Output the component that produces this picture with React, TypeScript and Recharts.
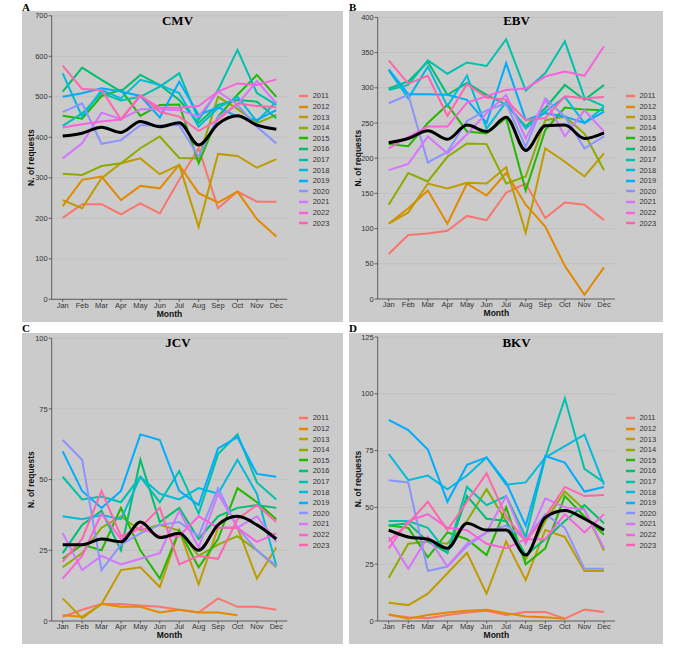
import { CartesianGrid, Legend, Line, LineChart, XAxis, YAxis } from 'recharts';

const months = ['Jan', 'Feb', 'Mar', 'Apr', 'May', 'Jun', 'Jul', 'Aug', 'Sep', 'Oct', 'Nov', 'Dec'];
const years = ['2011', '2012', '2013', '2014', '2015', '2016', '2017', '2018', '2019', '2020', '2021', '2022', '2023'];
const yearColors = [
    '#F8766D', '#E18A00', '#BE9C00', '#8CAB00', '#24B700', '#00BE70', '#00C1AB',
    '#00BBDA', '#00ACFC', '#8B93FF', '#D575FE', '#F962DD', '#FF65AC',
];

// one row per year, 2011 -> 2023
const cmvByYear: (number | null)[][] = [
    [201, 235, 235, 210, 237, 212, 295, 373, 225, 266, 241, 241],
    [230, 295, 303, 245, 280, 274, 332, 262, 239, 266, 198, 155],
    [245, 225, 299, 336, 348, 309, 332, 179, 359, 354, 325, 346],
    [310, 307, 329, 336, 373, 402, 349, 348, 500, 470, 435, 455],
    [453, 446, 502, 517, 453, 480, 481, 336, 451, 505, 554, 500],
    [513, 572, 542, 513, 554, 529, 492, 435, 480, 492, 488, 447],
    [428, 459, 509, 491, 500, 525, 558, 443, 517, 616, 509, 480],
    [558, 451, 517, 496, 542, 529, 509, 426, 472, 500, 439, 488],
    [500, 509, 521, 513, 502, 449, 537, 455, 474, 451, 443, 467],
    [462, 484, 384, 393, 430, 430, 430, 352, 451, 480, 426, 385],
    [348, 385, 461, 445, 469, 469, 467, 451, 513, 481, 539, 484],
    [424, 432, 439, 444, 502, 473, 473, 477, 513, 533, 529, 543],
    [577, 519, 517, 444, 504, 463, 451, 416, 443, 484, 477, 474],
];
const cmvMean = [403, 410, 425, 412, 439, 426, 436, 381, 433, 453, 430, 420];

const ebvByYear: (number | null)[][] = [
    [64, 91, 93, 97, 118, 112, 151, 164, 115, 137, 134, 112],
    [107, 129, 154, 107, 164, 147, 179, 134, 103, 47, 6, 45],
    [107, 123, 164, 157, 165, 164, 187, 94, 214, 195, 174, 207],
    [134, 179, 167, 202, 221, 220, 164, 174, 254, 259, 235, 183],
    [220, 217, 250, 276, 238, 235, 257, 154, 240, 272, 269, 268],
    [299, 309, 337, 290, 307, 290, 276, 245, 271, 304, 283, 304],
    [297, 304, 339, 320, 336, 331, 369, 296, 321, 366, 286, 274],
    [325, 285, 330, 274, 317, 242, 280, 242, 266, 287, 250, 273],
    [326, 291, 291, 290, 283, 250, 335, 254, 264, 259, 250, 266],
    [278, 290, 194, 209, 253, 268, 278, 216, 285, 259, 214, 231],
    [183, 192, 231, 207, 234, 264, 290, 228, 283, 231, 268, 238],
    [214, 230, 245, 245, 279, 288, 297, 299, 316, 323, 317, 359],
    [339, 306, 317, 260, 305, 286, 283, 254, 257, 288, 285, 287],
];
const ebvMean = [222, 228, 239, 227, 247, 238, 258, 211, 246, 247, 228, 236];

const jcvByYear: (number | null)[][] = [
    [1.5, 4, 6, 6, 5.5, 5, 4, 3, 8, 5, 5, 4],
    [2, 1.5, 6, 5, 5, 3, 4, 3, 3, 2, null, null],
    [8, 1, 6, 18, 19, 12, 32, 13, 33, 33, 15, 26],
    [19, 24, 33, 37, 32, 34, 32, 23, 27, 30, 25, 19],
    [22, 27, 25, 40, 25, 15, 32, 19, 29, 47, 42, 36],
    [24, 34, 39, 25, 57, 35, 40, 29, 37, 40, 41, 40],
    [51, 43, 44, 42, 51, 42, 53, 38, 59, 66, 49, 43],
    [37, 36, 37.5, 36, 51, 45, 43, 47, 45, 57, 45, 19.5],
    [60, 46, 40, 46, 66, 64, 46, 41, 61, 65, 52, 51],
    [64, 57, 18, 27, 31, 34, 35, 30, 47, 33, 25, 19.5],
    [31, 18, 23, 20, 22, 24, 39, 26, 45, 33, 37, 28],
    [15, 23, 38, 29, 33, 30, 30, 37, 33, 33, 28, 31],
    [21, 29, 46, 30, 33, 40, 20, 23, 22, 36, 41, 35],
];
const jcvMean = [27, 27, 29, 28, 35, 29.5, 31, 25, 34, 37, 34, 29];

const bkvByYear: (number | null)[][] = [
    [2.6, 1.6, 1.2, 2.6, 3.7, 4.5, 2.6, 4, 4, 1, 5, 4],
    [3, 1, 2.6, 3.7, 4.5, 5, 3.4, 2, 1.6, 1, null, null],
    [8, 7, 12, 21, 30, 12, 35, 18, 40, 37, 22, 22],
    [19, 34, 35, 34, 44, 58, 44, 27, 44, 57, 49, 31],
    [42, 41, 28, 39, 36, 29, 50, 25, 32, 55, 46, 38],
    [42, 43, 35, 30, 55, 45, 44, 29, 36, 44, 51, 43],
    [44, 44, 41, 30, 59, 51, 55, 37, 72, 98, 67, 61],
    [73.5, 62, 64, 58, 64, 72, 60, 61, 72, 77, 82, 60],
    [88.5, 84, 75.5, 52.5, 68.7, 72, 61, 42, 72.6, 69.7, 57, 59],
    [62, 61, 22, 24, 33, 39, 42, 36, 47, 41, 23, 23],
    [37, 23, 37, 24, 34, 39, 55, 34, 54, 50, 49, 32],
    [32, 44, 47, 41, 40, 34, 32, 36, 36, 47, 39, 47],
    [35, 43, 52.5, 40, 52.5, 65, 46, 35, 46, 59, 55, 55.5],
];
const bkvMean = [40, 37, 36, 32, 43, 40, 40, 29, 45.6, 48.6, 45, 40];

const cmvTicks = [0, 100, 200, 300, 400, 500, 600, 700];
const ebvTicks = [0, 50, 100, 150, 200, 250, 300, 350, 400];
const jcvTicks = [0, 25, 50, 75, 100];
const bkvTicks = [0, 25, 50, 75, 100, 125];

const sans = '"Liberation Sans", Arial, sans-serif';
const serif = '"Liberation Serif", "Times New Roman", serif';
const tickStyle = { fill: '#333', fontSize: 7.5, fontFamily: sans };

function buildRows(byYear: (number | null)[][], mean: number[]) {
    return months.map((month, i) => {
        const row: Record<string, string | number | null> = { month, mean: mean[i] };
        years.forEach((year, k) => {
            row[year] = byYear[k][i];
        });
        return row;
    });
}

function YearLegend({ offset }: { offset: number }) {
    return (
        <div style={{ fontFamily: sans, fontSize: 7.5, color: '#333' }}>
            {years.map((year, k) => (
                <div key={year} style={{ height: 10.6, display: 'flex', alignItems: 'center' }}>
                    <svg width={9} height={4} style={{ marginLeft: offset }}>
                        <line x1={0} y1={2} x2={9} y2={2} stroke={yearColors[k]} strokeWidth={2.5} />
                    </svg>
                    <span style={{ marginLeft: 4.4 }}>{year}</span>
                </div>
            ))}
        </div>
    );
}

type PanelProps = {
    letter: string;
    title: string;
    byYear: (number | null)[][];
    mean: number[];
    ticks: number[];
    left: number;
    top: number;
    width: number;
    height: number;
    yAxisWidth: number;
    marginTop: number;
    xAxisHeight: number;
    legendWidth: number;
    legendOffset: number;
    legendTop: number;
    titleX: number;
    titleBaseline: number;
    letterTop: number;
};

function Panel(p: PanelProps) {
    const rows = buildRows(p.byYear, p.mean);
    const plotTop = p.marginTop;
    const plotBottom = p.height - p.xAxisHeight;
    const plotLeft = p.yAxisWidth;
    const plotRight = p.width - p.legendWidth;

    return (
        <>
            <div
                style={{
                    position: 'absolute',
                    left: p.left,
                    top: p.letterTop,
                    fontFamily: serif,
                    fontWeight: 'bold',
                    fontSize: 11,
                    lineHeight: '12px',
                }}
            >
                {p.letter}
            </div>
            <div
                style={{
                    position: 'absolute',
                    left: p.left,
                    top: p.top,
                    width: p.width,
                    height: p.height,
                    background: '#cbcbcb',
                }}
            >
                <LineChart
                    width={p.width}
                    height={p.height}
                    data={rows}
                    margin={{ top: p.marginTop, right: 0, bottom: 0, left: 0 }}
                >
                    <CartesianGrid stroke="#bdbdbd" strokeWidth={0.7} vertical={false} />
                    <XAxis
                        dataKey="month"
                        interval={0}
                        padding={{ left: 11, right: 11 }}
                        height={p.xAxisHeight}
                        tick={tickStyle}
                        tickSize={2.5}
                        tickMargin={0.5}
                        axisLine={{ stroke: '#444', strokeWidth: 0.8 }}
                        tickLine={{ stroke: '#444', strokeWidth: 0.8 }}
                        label={() => (
                            <text
                                x={(plotLeft + plotRight) / 2}
                                y={plotBottom + 17.4}
                                textAnchor="middle"
                                fontFamily={sans}
                                fontWeight="bold"
                                fontSize={8.5}
                                fill="#111"
                            >
                                Month
                            </text>
                        )}
                    />
                    <YAxis
                        type="number"
                        domain={[p.ticks[0], p.ticks[p.ticks.length - 1]]}
                        ticks={p.ticks}
                        interval={0}
                        width={p.yAxisWidth}
                        tick={tickStyle}
                        tickSize={3}
                        tickMargin={1}
                        axisLine={{ stroke: '#444', strokeWidth: 0.8 }}
                        tickLine={{ stroke: '#444', strokeWidth: 0.8 }}
                        label={() => {
                            const cx = 12;
                            const cy = (plotTop + plotBottom) / 2;
                            return (
                                <text
                                    x={cx}
                                    y={cy}
                                    transform={`rotate(-90 ${cx} ${cy})`}
                                    textAnchor="middle"
                                    fontFamily={sans}
                                    fontWeight="bold"
                                    fontSize={8.5}
                                    fill="#111"
                                >
                                    N. of requests
                                </text>
                            );
                        }}
                    />
                    <Legend
                        layout="vertical"
                        align="right"
                        verticalAlign="top"
                        wrapperStyle={{ top: p.legendTop, right: 0, width: p.legendWidth }}
                        content={() => <YearLegend offset={p.legendOffset} />}
                    />
                    {years.map((year, k) => (
                        <Line
                            key={year}
                            type="linear"
                            dataKey={year}
                            stroke={yearColors[k]}
                            strokeWidth={2}
                            dot={false}
                            activeDot={false}
                            isAnimationActive={false}
                        />
                    ))}
                    <Line
                        type="monotone"
                        dataKey="mean"
                        stroke="#000"
                        strokeWidth={3}
                        dot={false}
                        activeDot={false}
                        legendType="none"
                        isAnimationActive={false}
                    />
                </LineChart>
            </div>
            <div
                style={{
                    position: 'absolute',
                    left: p.titleX - 40,
                    width: 80,
                    top: p.titleBaseline - 10.9,
                    textAlign: 'center',
                    fontFamily: serif,
                    fontWeight: 'bold',
                    fontSize: 13,
                    lineHeight: '13px',
                }}
            >
                {p.title}
            </div>
        </>
    );
}

export default function App() {
    return (
        <div style={{ position: 'absolute', left: 0, top: 0, width: 685, height: 657, background: '#fff' }}>
            <Panel
                letter="A" title="CMV" byYear={cmvByYear} mean={cmvMean} ticks={cmvTicks}
                left={22} top={11} width={321} height={311}
                yAxisWidth={29.7} marginTop={4.8} xAxisHeight={22.7}
                legendWidth={55.7} legendOffset={12} legendTop={79.7}
                titleX={177.5} titleBaseline={25} letterTop={1}
            />
            <Panel
                letter="B" title="EBV" byYear={ebvByYear} mean={ebvMean} ticks={ebvTicks}
                left={349} top={11} width={314} height={311}
                yAxisWidth={28.7} marginTop={6.4} xAxisHeight={23}
                legendWidth={48} legendOffset={11} legendTop={79.7}
                titleX={516.5} titleBaseline={25} letterTop={1}
            />
            <Panel
                letter="C" title="JCV" byYear={jcvByYear} mean={jcvMean} ticks={jcvTicks}
                left={22} top={333} width={321} height={311}
                yAxisWidth={29.7} marginTop={5.2} xAxisHeight={23}
                legendWidth={55.7} legendOffset={12} legendTop={79.7}
                titleX={178} titleBaseline={347} letterTop={322}
            />
            <Panel
                letter="D" title="BKV" byYear={bkvByYear} mean={bkvMean} ticks={bkvTicks}
                left={349} top={333} width={314} height={311}
                yAxisWidth={28.7} marginTop={4} xAxisHeight={23}
                legendWidth={48} legendOffset={11} legendTop={79.7}
                titleX={516.5} titleBaseline={347} letterTop={322}
            />
        </div>
    );
}
